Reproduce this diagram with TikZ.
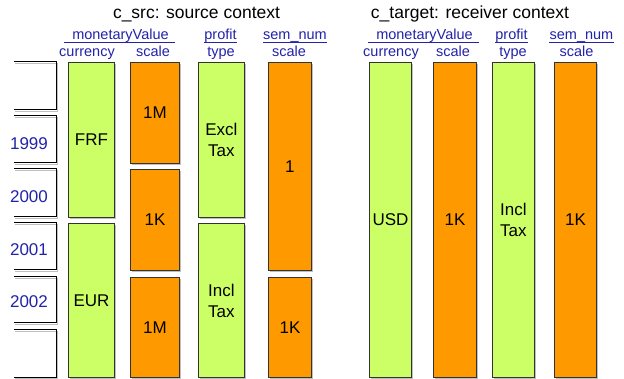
\documentclass[tikz,border=0pt]{standalone}
\usepackage{fontspec}
\setmainfont{Liberation Sans}
\usetikzlibrary{shadows}
\definecolor{cgreen}{HTML}{CCFF66}
\definecolor{corange}{HTML}{FF9900}
\definecolor{cblue}{RGB}{34,34,170}
\begin{document}
\begin{tikzpicture}[x=1pt,y=-1pt,
  bx/.style={draw=black!80, line width=0.9pt, inner sep=0pt, anchor=north west,
    font=\fontsize{17}{21}\selectfont, align=center,
    drop shadow={shadow xshift=1.2pt, shadow yshift=-1.2pt, fill=black!25, opacity=1}},
  gbx/.style={bx, fill=cgreen},
  obx/.style={bx, fill=corange},
  ttl/.style={font=\fontsize{17.5}{20}\selectfont, anchor=base, inner sep=0pt},
  hdr/.style={font=\fontsize{14.5}{16}\selectfont, text=cblue, anchor=base, inner sep=0pt},
  yr/.style={font=\fontsize{17}{20}\selectfont, text=cblue, anchor=base, inner sep=0pt},
  ul/.style={draw=cblue, line width=0.8pt},
  ybox/.style={draw=black, line width=1pt},
  ysh/.style={draw=black!25, line width=1pt}]
\useasboundingbox (0,0) rectangle (624,379);

% titles
\node[ttl] (t1) at (196.5,19) {c\_src: source context};
\node[ttl] (t2) at (470,19) {c\_target: receiver context};

% headers left
\node[hdr] (mvL) at (120.5,40) {monetaryValue};
\node[hdr] (prL) at (220.5,40) {profit};
\node[hdr] (snL) at (295,40) {sem\_num};
\draw[ul] ([xshift=-8pt,yshift=-2pt]mvL.base west) -- ([xshift=6pt,yshift=-2pt]mvL.base east);
\draw[ul] ([yshift=-2pt]prL.base west) -- ([yshift=-2pt]prL.base east);
\draw[ul] ([yshift=-2pt]snL.base west) -- ([yshift=-2pt]snL.base east);
\node[hdr] (cuL) at (87,57) {currency};
\node[hdr] (scL) at (153,57) {scale};
\node[hdr] (tyL) at (221,57) {type};
\node[hdr] (ssL) at (289,57) {scale};

% headers right
\node[hdr] (mvR) at (424.5,40) {monetaryValue};
\node[hdr] (prR) at (511.5,40) {profit};
\node[hdr] (snR) at (581.5,40) {sem\_num};
\draw[ul] ([xshift=-8pt,yshift=-2pt]mvR.base west) -- ([xshift=6pt,yshift=-2pt]mvR.base east);
\draw[ul] ([yshift=-2pt]prR.base west) -- ([yshift=-2pt]prR.base east);
\draw[ul] ([yshift=-2pt]snR.base west) -- ([yshift=-2pt]snR.base east);
\node[hdr] (cuR) at (391,57) {currency};
\node[hdr] (scR) at (453,57) {scale};
\node[hdr] (tyR) at (513,57) {type};
\node[hdr] (ssR) at (576.5,57) {scale};

% year boxes (open on the left)
\foreach \t/\b in {62/110,116/163,169/217,223/270,277/323,330/377}{
  \draw[ysh] (15,\t+1.2) -- (57.2,\t+1.2) -- (57.2,\b+1.2) -- (15,\b+1.2);
  \draw[ybox] (14,\t) -- (56,\t) -- (56,\b) -- (14,\b);
}
\node[yr] (y99) at (29,150) {1999};
\node[yr] (y00) at (29,203) {2000};
\node[yr] (y01) at (29,256) {2001};
\node[yr] (y02) at (29,308) {2002};

% source context columns
\node[gbx, minimum width=46pt, minimum height=155pt] (frf) at (68,62) {FRF};
\node[gbx, minimum width=46pt, minimum height=154pt] (eur) at (68,223) {EUR};
\node[obx, minimum width=49pt, minimum height=101pt] (s1m) at (130,62) {1M};
\node[obx, minimum width=49pt, minimum height=101pt] (s1k) at (130,169) {1K};
\node[obx, minimum width=49pt, minimum height=100pt] (s1m2) at (130,277) {1M};
\node[gbx, minimum width=46pt, minimum height=155pt] (excl) at (198,62) {Excl\\Tax};
\node[gbx, minimum width=46pt, minimum height=154pt] (incl) at (198,223) {Incl\\Tax};
\node[obx, minimum width=43pt, minimum height=208pt] (sn1) at (268,62) {1};
\node[obx, minimum width=43pt, minimum height=100pt] (sn1k) at (268,277) {1K};

% target context columns
\node[gbx, minimum width=42pt, minimum height=315pt] (usd) at (369,62) {USD};
\node[obx, minimum width=43pt, minimum height=315pt] (ts) at (433,62) {1K};
\node[gbx, minimum width=42pt, minimum height=315pt] (tt) at (492,62) {Incl\\Tax};
\node[obx, minimum width=42pt, minimum height=315pt] (tsn) at (554,62) {1K};
\end{tikzpicture}
\end{document}
